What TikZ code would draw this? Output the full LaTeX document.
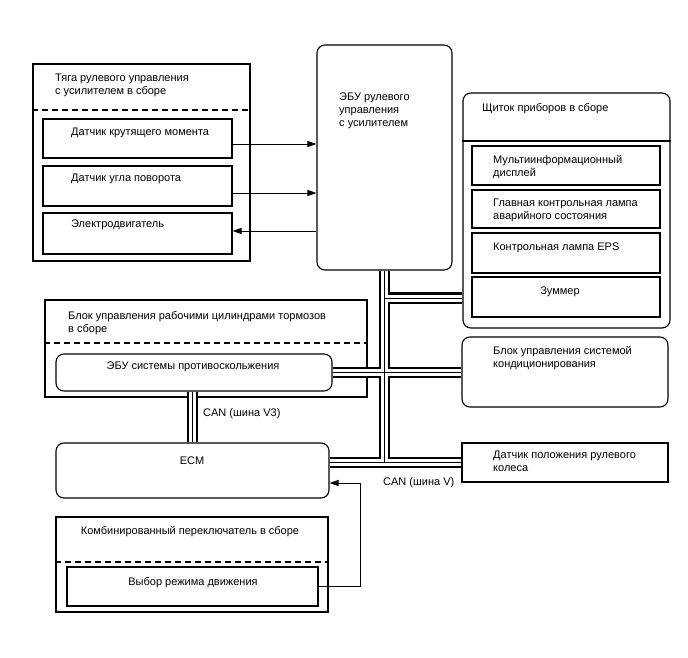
\documentclass[tikz,border=0pt]{standalone}
\usepackage{fontspec}
\setmainfont{Liberation Sans}
\usetikzlibrary{arrows.meta, fit}

\begin{document}
\begin{tikzpicture}[x=1pt, y=-1pt,
  box/.style={draw, line width=1.1pt, inner sep=0pt},
  rbox/.style={box, rounded corners=8pt},
  txt/.style={inner sep=0pt, anchor=base west, align=left,
              font=\fontsize{11}{13}\selectfont},
  ctxt/.style={txt, anchor=base, align=center},
  sep/.style={line width=1.1pt, dash pattern=on 6pt off 4pt},
  arrow/.style={-{Triangle[length=9pt, width=6pt]}, line width=0.9pt},
  bus/.style={line width=11.5pt,
              postaction={draw, white, line width=7pt},
              postaction={draw, black, line width=0.9pt}}]

  \useasboundingbox (0,0) rectangle (688,658);

  % steering gear assembly (text: baseline of the last line)
  \node[box, fit={(33,64) (250,261)}] (steer) {};
  \draw[sep] (steer.west |- 0,110) -- (steer.east |- 0,110);
  \node[box, fit={(43,119) (232,158)}] (trq) {};
  \node[box, fit={(43,166) (232,206)}] (ang) {};
  \node[box, fit={(43,213) (232,254)}] (mtr) {};
  \node[txt] at (55,95)   {Тяга рулевого управления\\с усилителем в сборе};
  \node[txt] at (71,135.5) {Датчик крутящего момента};
  \node[txt] at (71,181.5) {Датчик угла поворота};
  \node[txt] at (71,227.5) {Электродвигатель};

  % EPS ECU
  \node[rbox, fit={(317,45) (452,270)}] (ecu) {};
  \node[txt] at (339,126.5) {ЭБУ рулевого\\управления\\с усилителем};

  % combination meter
  \node[rbox, fit={(463,93) (670,328)}] (meter) {};
  \draw[line width=1.1pt] (meter.west |- 0,141) -- (meter.east |- 0,141);
  \node[box, fit={(472,146) (660,185)}] (mid) {};
  \node[box, fit={(472,190) (660,228)}] (mwl) {};
  \node[box, fit={(472,233) (660,273)}] (eps) {};
  \node[box, fit={(472,277) (660,317)}] (buz) {};
  \node[txt] at (482,111.5) {Щиток приборов в сборе};
  \node[txt] at (493,176.5) {Мультиинформационный\\дисплей};
  \node[txt] at (493,219.5) {Главная контрольная лампа\\аварийного состояния};
  \node[txt] at (493,250.5) {Контрольная лампа EPS};
  \node[ctxt] at (560,294.5) {Зуммер};

  % brake actuator assembly
  \node[box, fit={(45,300) (367,397)}] (brk) {};
  \draw[sep] (brk.west |- 0,343) -- (brk.east |- 0,343);
  \node[rbox, fit={(56,354) (332,391)}] (skid) {};
  \node[txt] at (68,332) {Блок управления рабочими цилиндрами тормозов\\в сборе};
  \node[ctxt] at (193,369.5) {ЭБУ системы противоскольжения};

  % air conditioner, steering sensor
  \node[rbox, fit={(462,337) (668,407)}] (ac) {};
  \node[txt] at (493,367.5) {Блок управления системой\\кондиционирования};
  \node[box, fit={(462,443) (668,482)}] (swp) {};
  \node[txt] at (493,471.5) {Датчик положения рулевого\\колеса};

  % ECM
  \node[rbox, fit={(56,443) (329,498)}] (ecm) {};
  \node[ctxt] at (192,464) {ECM};

  % combination switch assembly
  \node[box, fit={(56,517) (328,612)}] (comb) {};
  \draw[sep] (comb.west |- 0,562) -- (comb.east |- 0,562);
  \node[box, fit={(67,567) (318,606)}] (mode) {};
  \node[ctxt] at (190,534.5) {Комбинированный переключатель в сборе};
  \node[ctxt] at (193,585.5) {Выбор режима движения};

  % signal lines
  \draw[arrow] ([yshift=-5.5pt]trq.east) -- ([yshift=-5.5pt]trq.east -| ecu.west);
  \draw[arrow] ([yshift=-7pt]ang.east) -- ([yshift=-7pt]ang.east -| ecu.west);
  \draw[arrow] ([yshift=2.5pt]mtr.east -| ecu.west) -- ([yshift=2.5pt]mtr.east);
  \draw[arrow] (mode.east) -| ([xshift=31pt, yshift=-12.5pt]ecm.east)
    -- ([yshift=-12.5pt]ecm.east);

  % CAN buses
  \draw[bus] (ecu.south) -- (ecu.south |- swp.west)
    (ecu.south |- 0,298) -- (meter.west |- 0,298)
    (skid.east) -- (skid.east -| ac.west)
    (ecm.east |- swp.west) -- (swp.west)
    (ecm.north |- skid.south) -- (ecm.north);
  \node[txt] at (203,416.5) {CAN (шина V3)};
  \node[txt] at (383,485.5) {CAN (шина V)};
\end{tikzpicture}
\end{document}
